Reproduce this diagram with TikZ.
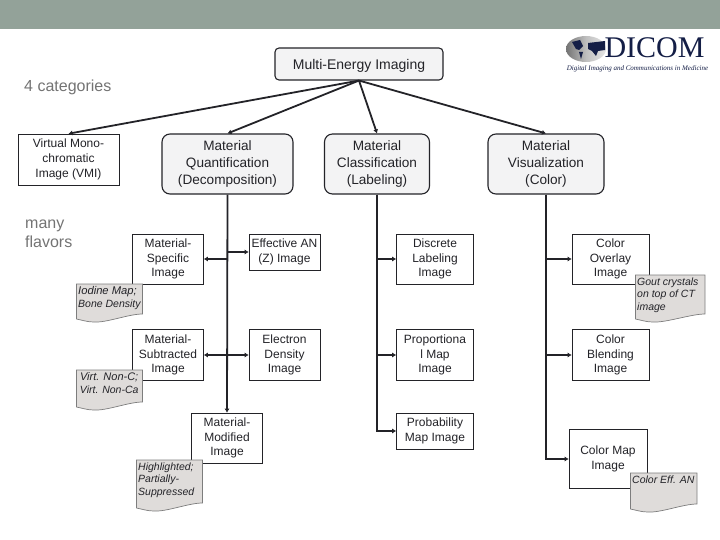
\documentclass[tikz,border=0pt]{standalone}
\usepackage{fontspec}
\usepackage{xcolor}
\usepackage{tikz}
\usetikzlibrary{arrows.meta, positioning, calc, shadings}
\setmainfont{Liberation Sans}
\newfontfamily\logofont{Liberation Serif}
\definecolor{myband}{RGB}{147,162,153}
\definecolor{mydark}{RGB}{35,35,40}
\definecolor{mygray}{RGB}{243,243,244}
\definecolor{mynote}{RGB}{223,220,218}
\definecolor{myedge}{RGB}{125,125,125}
\definecolor{mynavy}{RGB}{20,30,70}
\tikzset{
  rootbox/.style={rectangle, draw=mydark, fill=mygray, align=center,
    inner sep=0pt, rounded corners=4pt, line width=1.1pt, text=mydark,
    execute at begin node={\rule{0pt}{14pt}},
    font=\fontsize{14}{17}\selectfont},
  catbox/.style={rootbox, rounded corners=8pt, execute at begin node={\rule{0pt}{12pt}},
    font=\fontsize{13.6}{17}\selectfont},
  imgbox/.style={rectangle, draw=mydark, fill=white, align=center,
    inner sep=0pt, line width=0.6pt, text=mydark,
    execute at begin node={\rule{0pt}{11pt}},
    font=\fontsize{12}{14.8}\selectfont},
  notetext/.style={anchor=north west, align=left, inner sep=0pt, text=mydark,
    font=\fontsize{10.5}{12.6}\selectfont\itshape},
  sidetext/.style={anchor=north west, align=left, inner sep=0pt, text=black!55,
    font=\fontsize{16}{19}\selectfont},
  arrow/.style={-{Latex[length=4pt,width=5pt]}, line width=1.8pt, color=mydark}
}
\newcommand{\flavornote}[5]{%
  \draw[draw=myedge, fill=mynote, line width=0.7pt]
    (#1,#2) -- (#3,#2) -- ({#3},{#4-8})
    .. controls ({#3-14},{#4-8}) and ({#1+30},{#4+1}) .. ({#1+17},{#4})
    .. controls ({#1+11},{#4}) and ({#1+5},{#4-2}) .. ({#1},{#4-3}) -- cycle;
  \node[notetext] at ({#1+1.5},{#2+2.5}) {#5};
}

\begin{document}
\begin{tikzpicture}[x=1pt,y=-1pt]
  \useasboundingbox (0,0) rectangle (720,540);
  \fill[myband] (0,0) rectangle (720,29);

  % Logo
  \shade[left color=black!55, right color=black!10, middle color=black!25] (586,49) ellipse (20 and 13);
  \fill[mynavy] (572,42) -- (580,40) -- (583,46) -- (579,50) -- (576,49) -- cycle;
  \fill[mynavy] (579,52) -- (583,52) -- (581,59) -- cycle;
  \fill[mynavy] (588,43) -- (605,41) -- (605,50) -- (598,51) -- (596,56) -- (592,51) -- (588,49) -- cycle;
  \node[inner sep=0pt, text=mynavy, font=\fontsize{30}{30}\selectfont\logofont] (dicom) at (654.5,47.5) {DICOM};
  \node[inner sep=0pt, text=mynavy, font=\fontsize{7}{8}\selectfont\logofont\itshape] (dicomsub) at (637.5,68.5) {Digital Imaging and Communications in Medicine};

  % Side captions
  \node[sidetext] (cats) at (24,80) {4 categories};
  \node[sidetext] (flav) at (25,220) {many\\flavors};

  % Top levels
  \node[rootbox, minimum width=168pt, minimum height=32pt] (root) at (359,64) {Multi-Energy Imaging};
  \node[imgbox, minimum width=101pt, minimum height=51pt] (vmi) at (68.5,159.5) {Virtual Mono-\\chromatic\\Image (VMI)};
  \node[catbox, minimum width=131pt, minimum height=60pt] (mq) at (227.5,164) {Material\\Quantification\\(Decomposition)};
  \node[catbox, minimum width=105pt, minimum height=60pt] (mc) at (377,164) {Material\\Classification\\(Labeling)};
  \node[catbox, minimum width=116pt, minimum height=60pt] (mv) at (546,164) {Material\\Visualization\\(Color)};

  % Image boxes
  \node[imgbox, minimum width=71pt, minimum height=50pt] (ms) at (168,259) {Material-\\Specific\\Image};
  \node[imgbox, minimum width=71pt, minimum height=36pt] (ef) at (284.5,252) {Effective AN\\(Z) Image};
  \node[imgbox, minimum width=71pt, minimum height=51pt] (st) at (168,355) {Material-\\Subtracted\\Image};
  \node[imgbox, minimum width=71pt, minimum height=51pt] (ed) at (284.5,355) {Electron\\Density\\Image};
  \node[imgbox, minimum width=71pt, minimum height=50pt] (md) at (227,438) {Material-\\Modified\\Image};
  \node[imgbox, minimum width=77pt, minimum height=50pt] (dl) at (435,259) {Discrete\\Labeling\\Image};
  \node[imgbox, minimum width=77pt, minimum height=51pt] (pp) at (435,355) {Proportiona\\l Map\\Image};
  \node[imgbox, minimum width=77pt, minimum height=36pt] (pb) at (435,431) {Probability\\Map Image};
  \node[imgbox, minimum width=77pt, minimum height=50pt] (co) at (610.5,259) {Color\\Overlay\\Image};
  \node[imgbox, minimum width=77pt, minimum height=51pt] (cb) at (610.5,355) {Color\\Blending\\Image};
  \node[imgbox, minimum width=78pt, minimum height=59pt] (cm) at (608,459) {Color Map\\Image};

  % Connectors from the top
  \foreach \target in {vmi, mq, mc, mv} {
    \draw[arrow] (root.south) -- (\target.north);
  }

  % Trunks and branches
  \draw[arrow] (mq.south) -- (md.north);
  \draw[arrow] (mq.south |- ef.west) -- (ef.west);
  \draw[arrow] (mq.south |- ms.east) -- (ms.east);
  \draw[arrow] (mq.south |- st.east) -- (st.east);
  \draw[arrow] (mq.south |- ed.west) -- (ed.west);
  \foreach \target in {dl, pp, pb} {
    \draw[arrow] (mc.south) |- (\target.west);
  }
  \foreach \target in {co, cb, cm} {
    \draw[arrow] (mv.south) |- (\target.west);
  }

  % Notes
  \flavornote{76.5}{284}{142.5}{322}{\fontsize{11.2}{12.6}\selectfont Iodine Map;\\Bone Density}
  \flavornote{76.5}{370}{142.5}{410}{\fontsize{11}{13}\selectfont\,Virt. Non-C;\\\,Virt. Non-Ca}
  \flavornote{136.5}{460}{202.5}{511}{Highlighted;\\Partially-\\Suppressed}
  \flavornote{635.5}{275}{705}{322}{Gout crystals\\on top of CT\\image}
  \flavornote{630.5}{473}{697}{512}{Color Eff. AN}
\end{tikzpicture}
\end{document}
